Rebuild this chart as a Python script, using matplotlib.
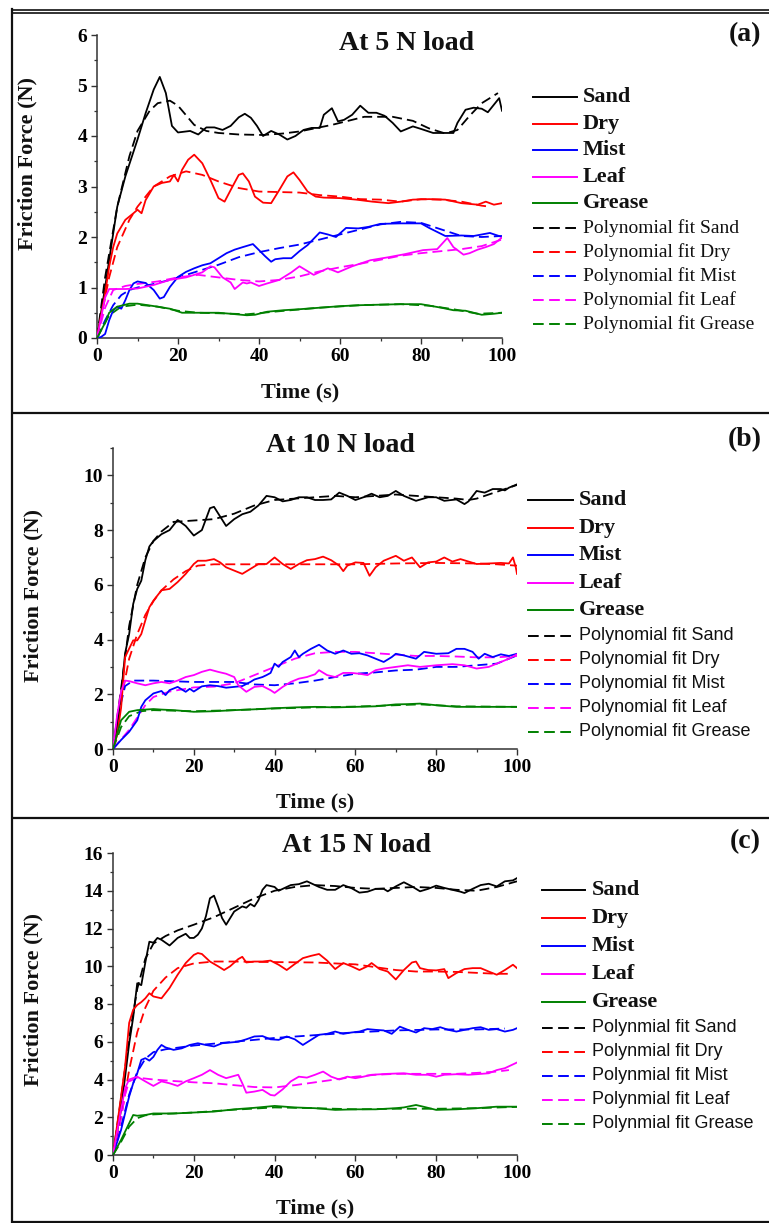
import matplotlib
matplotlib.use("Agg")
import matplotlib.pyplot as plt
from matplotlib.lines import Line2D
from matplotlib.ticker import MultipleLocator

W, H = 769, 1223

NAMES = ["Sand", "Dry", "Mist", "Leaf", "Grease"]
COLORS = ["#000000", "#ff0000", "#0000ff", "#ff00ff", "#008000"]
TITLES = ["At 5 N load", "At 10 N load", "At 15 N load"]
TAGS = ["(a)", "(b)", "(c)"]
FIT_PREFIX = ["Polynomial fit", "Polynomial fit", "Polynmial fit"]

# ---- panel (a): 5 N ----
A_SAND_T = [0, 1, 2, 3, 4, 5, 7, 10, 12, 14, 15.5, 17, 18.5, 20, 23, 25, 27, 29, 31, 33, 35, 36.5, 38, 39.5, 41, 43, 45, 47, 49, 51, 53, 55, 56, 58, 59.5, 61, 63, 65, 67, 69, 71, 73, 75, 78, 80, 83, 86, 88, 89, 91, 93, 95, 96.5, 98, 99.3, 100]
A_SAND_F = [0, 0.5, 1.0, 1.54, 2.07, 2.6, 3.2, 3.93, 4.45, 4.92, 5.17, 4.85, 4.2, 4.07, 4.1, 4.03, 4.17, 4.17, 4.12, 4.2, 4.37, 4.44, 4.36, 4.2, 4.0, 4.1, 4.03, 3.93, 4.0, 4.12, 4.16, 4.16, 4.42, 4.55, 4.29, 4.32, 4.42, 4.6, 4.46, 4.46, 4.4, 4.26, 4.09, 4.19, 4.14, 4.06, 4.06, 4.06, 4.26, 4.52, 4.56, 4.54, 4.47, 4.62, 4.75, 4.5]
A_SAND_FIT_T = [0, 2, 5, 8, 10, 13, 15, 18, 20, 24, 27, 30, 35, 41, 46, 50, 58, 66, 73, 78, 82, 86, 89, 92, 95, 97, 99]
A_SAND_FIT_F = [0, 1.2, 2.6, 3.6, 4.1, 4.5, 4.65, 4.7, 4.6, 4.22, 4.1, 4.06, 4.03, 4.02, 4.05, 4.09, 4.22, 4.38, 4.38, 4.3, 4.15, 4.05, 4.12, 4.4, 4.65, 4.75, 4.85]
A_DRY_T = [0, 2, 3, 4, 5, 7, 9, 10, 11, 12, 14, 16, 18, 19, 20, 21, 22.5, 24, 26, 28, 30, 31.5, 33, 35, 36, 37.5, 39, 41, 43, 45, 47, 48.5, 50, 52, 54, 56, 60, 64, 68, 72, 75, 78, 82, 86, 90, 94, 96, 98, 100]
A_DRY_F = [0, 0.88, 1.41, 1.8, 2.07, 2.34, 2.47, 2.54, 2.47, 2.73, 3.0, 3.07, 3.1, 3.23, 3.1, 3.33, 3.53, 3.63, 3.46, 3.13, 2.77, 2.7, 2.93, 3.23, 3.26, 3.1, 2.8, 2.68, 2.67, 2.93, 3.2, 3.28, 3.13, 2.9, 2.8, 2.78, 2.77, 2.74, 2.7, 2.67, 2.7, 2.74, 2.75, 2.74, 2.67, 2.64, 2.7, 2.64, 2.67]
A_DRY_FIT_T = [0, 3, 5, 8, 10, 14, 18, 22, 26, 30, 35, 40, 45, 50, 55, 60, 65, 70, 75, 80, 85, 90, 95, 97]
A_DRY_FIT_F = [0, 1.2, 1.8, 2.34, 2.6, 3.0, 3.2, 3.3, 3.23, 3.1, 2.97, 2.9, 2.89, 2.88, 2.83, 2.8, 2.75, 2.74, 2.7, 2.75, 2.74, 2.7, 2.62, 2.6]
A_MIST_T = [0, 1, 2, 3, 4, 5, 6, 7, 8, 9, 10, 12, 14, 15.5, 16.5, 18, 20, 22, 24, 26, 28, 30, 32, 34, 36, 38.5, 40, 41.5, 43, 44, 46, 48, 50, 52, 55, 57, 59, 61.5, 64.5, 67, 70, 75, 80, 82, 86, 90, 93, 97, 100]
A_MIST_F = [0, 0.02, 0.08, 0.35, 0.55, 0.62, 0.58, 0.75, 0.95, 1.08, 1.12, 1.09, 0.95, 0.78, 0.81, 1.01, 1.21, 1.31, 1.38, 1.44, 1.48, 1.58, 1.68, 1.75, 1.8, 1.86, 1.74, 1.62, 1.51, 1.56, 1.58, 1.58, 1.72, 1.84, 2.09, 2.05, 2.0, 2.18, 2.17, 2.2, 2.26, 2.27, 2.27, 2.18, 2.02, 2.03, 2.02, 2.08, 2.0]
A_MIST_FIT_T = [0, 2, 4, 6, 8, 10, 14, 18, 22, 26, 30, 35, 40, 45, 50, 55, 60, 65, 70, 75, 80, 85, 90, 95, 100]
A_MIST_FIT_F = [0, 0.35, 0.65, 0.85, 0.95, 1.0, 1.07, 1.15, 1.25, 1.35, 1.45, 1.6, 1.7, 1.78, 1.85, 1.95, 2.05, 2.15, 2.25, 2.3, 2.28, 2.15, 2.02, 2.0, 2.02]
A_LEAF_T = [0, 2, 3, 5, 7, 10, 14, 18, 22, 26, 28, 29, 31, 33, 34, 36, 37, 38, 40, 42, 45, 48, 50, 53.5, 57, 59.5, 63, 67.5, 72, 76, 80.5, 84, 86.5, 88, 90.5, 92, 94, 96, 98, 100]
A_LEAF_F = [0, 0.8, 0.97, 0.97, 0.97, 0.98, 1.05, 1.15, 1.2, 1.3, 1.42, 1.4, 1.2, 1.1, 0.97, 1.1, 1.08, 1.1, 1.03, 1.08, 1.15, 1.3, 1.42, 1.25, 1.38, 1.3, 1.42, 1.54, 1.6, 1.66, 1.74, 1.76, 1.98, 1.8, 1.65, 1.68, 1.75, 1.8, 1.86, 1.99]
A_LEAF_FIT_T = [0, 2, 4, 7, 10, 15, 20, 25, 30, 35, 40, 45, 50, 55, 60, 65, 70, 75, 80, 85, 90, 95, 100]
A_LEAF_FIT_F = [0, 0.6, 0.95, 1.03, 1.07, 1.12, 1.2, 1.25, 1.2, 1.15, 1.12, 1.15, 1.22, 1.32, 1.4, 1.47, 1.55, 1.63, 1.68, 1.72, 1.76, 1.82, 1.95]
A_GREASE_T = [0, 2, 3, 5, 8, 10, 15, 18, 21, 25, 30, 33, 37, 39, 42, 46, 50, 55, 60, 65, 70, 75, 80, 85, 88, 91, 95, 98, 100]
A_GREASE_F = [0, 0.3, 0.5, 0.62, 0.68, 0.68, 0.62, 0.58, 0.5, 0.5, 0.5, 0.48, 0.45, 0.46, 0.52, 0.55, 0.57, 0.6, 0.63, 0.65, 0.66, 0.67, 0.67, 0.6, 0.55, 0.54, 0.46, 0.48, 0.5]
A_GREASE_FIT_T = [0, 3, 6, 10, 15, 20, 25, 30, 37, 45, 55, 65, 75, 82, 88, 94, 100]
A_GREASE_FIT_F = [0, 0.45, 0.62, 0.66, 0.62, 0.54, 0.5, 0.49, 0.47, 0.53, 0.6, 0.65, 0.67, 0.64, 0.57, 0.48, 0.5]

# ---- panel (b): 10 N ----
B_SAND_T = [0, 1, 2, 3, 4, 5, 6, 7, 8, 9, 10, 12, 14, 16, 18, 20, 22, 24, 25, 26.5, 28, 30, 32, 34, 36, 38, 40, 42, 44, 46, 48, 50, 52, 54, 56, 58, 60, 62, 64, 66, 68, 70, 72, 75, 78, 80, 82, 85, 87, 88, 90, 92, 94, 96, 97, 98, 100]
B_SAND_F = [0, 0.8, 2.0, 3.5, 4.2, 5.3, 5.85, 6.15, 6.9, 7.4, 7.6, 7.85, 8.0, 8.37, 8.15, 7.8, 8.0, 8.8, 8.85, 8.5, 8.15, 8.4, 8.58, 8.67, 8.9, 9.25, 9.2, 9.05, 9.1, 9.2, 9.2, 9.1, 9.1, 9.12, 9.37, 9.25, 9.1, 9.2, 9.33, 9.2, 9.25, 9.43, 9.25, 9.07, 9.2, 9.2, 9.07, 9.12, 8.95, 9.05, 9.43, 9.37, 9.5, 9.5, 9.45, 9.55, 9.67]
B_SAND_FIT_T = [0, 2, 4, 6, 8, 10, 12, 15, 20, 25, 30, 35, 40, 45, 50, 55, 60, 65, 70, 75, 80, 85, 88, 90, 93, 95, 97, 100]
B_SAND_FIT_F = [0, 2.2, 4.5, 6.0, 7.0, 7.6, 7.95, 8.3, 8.35, 8.4, 8.6, 8.9, 9.1, 9.15, 9.2, 9.25, 9.2, 9.25, 9.3, 9.25, 9.2, 9.15, 9.1, 9.15, 9.3, 9.4, 9.5, 9.65]
B_DRY_T = [0, 1, 2, 3, 4, 5, 6, 7, 8, 9, 10, 12, 14, 16, 18, 20, 21, 23, 25, 26.5, 28, 30, 32, 34, 36, 38, 40, 42, 44, 46, 48, 50, 52, 54, 56, 57, 58, 60, 62, 63.5, 65, 67, 69, 70, 72, 74, 76, 78, 80, 82, 84, 86, 88, 90, 93, 96, 98, 99, 99.7, 100]
B_DRY_F = [0, 0.5, 1.5, 3.36, 3.67, 3.97, 3.97, 4.2, 4.7, 5.18, 5.42, 5.8, 5.85, 6.1, 6.4, 6.76, 6.88, 6.88, 6.94, 6.82, 6.64, 6.52, 6.4, 6.58, 6.76, 6.76, 7.0, 6.76, 6.58, 6.76, 6.9, 6.94, 7.03, 6.9, 6.7, 6.5, 6.7, 6.82, 6.8, 6.33, 6.64, 6.88, 7.0, 7.06, 6.88, 7.0, 6.64, 6.82, 6.85, 7.0, 6.85, 6.94, 6.85, 6.76, 6.78, 6.8, 6.78, 7.0, 6.64, 6.4]
B_DRY_FIT_T = [0, 2, 4, 6, 8, 10, 12, 15, 18, 21, 25, 30, 40, 50, 60, 70, 80, 90, 95, 100]
B_DRY_FIT_F = [0, 1.8, 3.3, 4.2, 4.9, 5.4, 5.8, 6.2, 6.5, 6.7, 6.75, 6.75, 6.75, 6.75, 6.75, 6.78, 6.8, 6.78, 6.75, 6.7]
B_MIST_T = [0, 2, 4, 6, 7, 8, 10, 12, 13, 14, 16, 18, 19, 20, 22, 24, 26, 28, 30, 32, 34, 35, 37, 38, 39, 40, 41, 42, 44, 45, 46, 47, 49, 51, 53, 55, 57, 59, 61, 63, 65, 67, 69, 70, 72, 75, 77, 80, 83, 85, 87, 89, 90.5, 92, 94, 96, 98, 100]
B_MIST_F = [0, 0.33, 0.63, 1.05, 1.54, 1.78, 2.03, 2.12, 1.97, 2.15, 2.27, 2.09, 2.2, 2.1, 2.29, 2.33, 2.3, 2.24, 2.27, 2.3, 2.45, 2.54, 2.63, 2.7, 2.78, 3.12, 3.0, 3.18, 3.36, 3.6, 3.36, 3.48, 3.66, 3.81, 3.6, 3.48, 3.6, 3.48, 3.5, 3.42, 3.3, 3.18, 3.36, 3.48, 3.42, 3.3, 3.55, 3.48, 3.5, 3.66, 3.66, 3.55, 3.3, 3.48, 3.36, 3.46, 3.4, 3.48]
B_MIST_FIT_T = [0, 1, 2, 3, 5, 10, 20, 30, 35, 40, 45, 50, 55, 60, 65, 70, 75, 80, 85, 90, 95, 98, 100]
B_MIST_FIT_F = [0, 0.9, 1.7, 2.3, 2.5, 2.5, 2.45, 2.45, 2.36, 2.33, 2.4, 2.5, 2.63, 2.75, 2.8, 2.87, 2.9, 3.0, 3.0, 3.06, 3.12, 3.3, 3.42]
B_LEAF_T = [0, 1, 2, 3, 4, 6, 8, 10, 12, 14, 16, 18, 20, 22, 24, 26, 28, 30, 31, 33, 35, 37, 39, 40, 42, 44, 46, 48, 50, 51, 53, 55, 57, 59, 61, 63, 65, 67, 70, 73, 76, 80, 84, 87, 90, 93, 96, 98, 100]
B_LEAF_F = [0, 1.2, 2.1, 2.5, 2.48, 2.4, 2.33, 2.4, 2.45, 2.4, 2.5, 2.63, 2.7, 2.82, 2.9, 2.82, 2.75, 2.63, 2.33, 2.09, 2.27, 2.3, 2.15, 2.05, 2.27, 2.45, 2.57, 2.63, 2.73, 2.88, 2.7, 2.63, 2.78, 2.78, 2.75, 2.7, 2.88, 2.94, 3.0, 3.06, 3.0, 3.06, 3.1, 3.06, 2.94, 3.0, 3.18, 3.3, 3.46]
B_LEAF_FIT_T = [0, 4, 8, 10, 14, 20, 25, 30, 35, 40, 45, 50, 55, 60, 65, 70, 75, 80, 85, 90, 95, 100]
B_LEAF_FIT_F = [0, 0.7, 1.6, 1.9, 2.1, 2.25, 2.28, 2.4, 2.7, 3.0, 3.3, 3.5, 3.55, 3.55, 3.5, 3.45, 3.4, 3.4, 3.38, 3.35, 3.35, 3.4]
B_GREASE_T = [0, 2, 4, 6, 10, 12, 15, 20, 25, 30, 35, 40, 45, 50, 55, 60, 65, 70, 73, 76, 80, 85, 90, 95, 100]
B_GREASE_F = [0, 1.05, 1.36, 1.42, 1.46, 1.44, 1.42, 1.36, 1.38, 1.42, 1.45, 1.49, 1.52, 1.54, 1.52, 1.54, 1.56, 1.63, 1.64, 1.66, 1.6, 1.54, 1.54, 1.54, 1.54]
B_GREASE_FIT_T = [0, 2, 4, 7, 10, 15, 20, 30, 40, 50, 60, 70, 76, 85, 100]
B_GREASE_FIT_F = [0, 0.8, 1.2, 1.38, 1.42, 1.4, 1.38, 1.42, 1.48, 1.52, 1.55, 1.6, 1.63, 1.56, 1.54]

# ---- panel (c): 15 N ----
C_SAND_T = [0, 2, 3, 4, 5, 6, 7, 8, 9, 10, 11, 12, 13, 14, 15, 16, 18, 19, 20, 21, 22, 23, 24, 25, 26, 27, 28, 29, 30, 32, 33, 34, 35, 36, 37, 38, 40, 41, 42, 44, 46, 48, 49, 51, 53, 55, 57, 59, 61, 63, 65, 67, 68, 70, 72, 74, 76, 78, 80, 82, 84, 86, 87, 89, 91, 93, 95, 97, 99, 100]
C_SAND_F = [0, 2.4, 4.15, 5.9, 7.3, 9.1, 9.0, 10.2, 11.3, 11.25, 11.5, 11.4, 11.25, 11.1, 11.3, 11.5, 11.72, 11.5, 11.5, 11.67, 12.0, 12.65, 13.6, 13.74, 13.17, 12.55, 12.2, 12.55, 12.9, 13.17, 13.1, 13.3, 13.17, 13.5, 14.05, 14.3, 14.2, 14.0, 14.1, 14.3, 14.35, 14.5, 14.4, 14.2, 14.05, 14.05, 14.3, 14.14, 13.9, 13.95, 14.1, 14.1, 13.97, 14.23, 14.45, 14.23, 13.97, 14.1, 14.27, 14.15, 14.05, 13.95, 13.88, 14.1, 14.3, 14.37, 14.23, 14.5, 14.55, 14.67]
C_SAND_FIT_T = [0, 2, 4, 6, 8, 10, 13, 16, 20, 25, 30, 35, 40, 45, 50, 55, 60, 65, 70, 75, 80, 85, 90, 95, 100]
C_SAND_FIT_F = [0, 3.0, 6.2, 8.8, 10.4, 11.2, 11.6, 11.9, 12.2, 12.6, 13.1, 13.6, 14.0, 14.2, 14.3, 14.25, 14.15, 14.1, 14.15, 14.2, 14.15, 14.05, 14.0, 14.2, 14.5]
C_DRY_T = [0, 2, 3, 4, 5, 6, 7, 8, 9, 10, 12, 14, 16, 18, 20, 21, 22, 24, 26, 27.5, 29, 31, 32, 33, 35, 37, 39, 41, 43, 45, 47, 49, 51, 53, 55, 57, 59, 61, 63, 64, 66, 68, 70, 72, 74, 75, 76, 78, 80, 82, 83, 85, 87, 89, 91, 93, 95, 97, 99, 100]
C_DRY_F = [0, 3.1, 4.7, 7.0, 7.7, 7.95, 8.1, 8.3, 8.57, 8.4, 8.3, 8.85, 9.55, 10.17, 10.6, 10.7, 10.65, 10.25, 10.0, 9.8, 10.0, 10.38, 10.5, 10.2, 10.25, 10.25, 10.3, 10.08, 9.8, 10.12, 10.43, 10.55, 10.65, 10.3, 9.85, 10.17, 10.0, 9.8, 10.0, 10.17, 9.85, 9.72, 9.3, 9.8, 10.2, 10.25, 9.9, 9.8, 9.78, 9.85, 9.37, 9.64, 9.85, 9.9, 9.9, 9.72, 9.55, 9.8, 10.08, 9.9]
C_DRY_FIT_T = [0, 2, 4, 6, 8, 10, 13, 16, 20, 25, 30, 40, 50, 60, 65, 70, 75, 80, 85, 90, 95, 98]
C_DRY_FIT_F = [0, 2.0, 4.5, 6.5, 7.8, 8.7, 9.4, 9.9, 10.15, 10.25, 10.25, 10.22, 10.2, 10.1, 9.95, 9.8, 9.72, 9.72, 9.7, 9.65, 9.6, 9.6]
C_MIST_T = [0, 2, 4, 5, 6, 7, 8, 9, 10, 11, 12, 13, 15, 17, 19, 21, 23, 25, 27, 29, 31, 33, 35, 37, 39, 41, 43, 45, 47, 49, 51, 53, 55, 57, 59, 61, 63, 65, 67, 69, 71, 73, 75, 77, 79, 81, 83, 85, 87, 89, 91, 93, 95, 97, 99, 100]
C_MIST_F = [0, 1.33, 3.1, 3.8, 4.33, 5.04, 5.13, 5.0, 5.2, 5.57, 5.83, 5.7, 5.57, 5.65, 5.83, 5.92, 5.83, 5.75, 5.92, 5.96, 6.0, 6.13, 6.28, 6.3, 6.13, 6.1, 6.28, 6.13, 5.83, 6.1, 6.37, 6.42, 6.54, 6.42, 6.49, 6.54, 6.67, 6.63, 6.6, 6.42, 6.8, 6.63, 6.49, 6.72, 6.67, 6.77, 6.63, 6.54, 6.63, 6.72, 6.77, 6.63, 6.67, 6.54, 6.63, 6.72]
C_MIST_FIT_T = [0, 2, 4, 6, 8, 10, 13, 20, 30, 40, 50, 60, 70, 80, 90, 97]
C_MIST_FIT_F = [0, 1.5, 3.2, 4.4, 5.1, 5.45, 5.6, 5.8, 6.0, 6.2, 6.35, 6.5, 6.6, 6.65, 6.65, 6.7]
C_LEAF_T = [0, 2, 3, 4, 6, 8, 10, 12, 14, 16, 18, 20, 22, 24, 26, 28, 31, 32, 33, 35, 37, 39, 40, 42, 44, 46, 48, 50, 52, 54, 56, 58, 60, 62, 64, 68, 72, 75, 78, 80, 82, 85, 88, 90, 93, 95, 97, 99, 100]
C_LEAF_F = [0, 2.4, 3.55, 4.0, 4.15, 3.9, 3.66, 3.9, 3.8, 3.66, 3.9, 4.07, 4.25, 4.5, 4.25, 4.07, 4.25, 3.8, 3.3, 3.36, 3.45, 3.18, 3.15, 3.48, 3.9, 4.15, 4.1, 4.25, 4.42, 4.15, 4.0, 4.15, 4.07, 4.15, 4.25, 4.3, 4.33, 4.25, 4.25, 4.15, 4.25, 4.28, 4.25, 4.28, 4.33, 4.5, 4.6, 4.8, 4.9]
C_LEAF_FIT_T = [0, 2, 3, 4, 6, 10, 15, 20, 25, 30, 35, 40, 45, 50, 55, 60, 65, 70, 75, 80, 85, 90, 95, 98]
C_LEAF_FIT_F = [0, 2.0, 3.2, 3.9, 4.1, 4.0, 3.92, 3.85, 3.8, 3.7, 3.6, 3.58, 3.7, 3.85, 4.0, 4.15, 4.25, 4.3, 4.3, 4.3, 4.3, 4.35, 4.42, 4.5]
C_GREASE_T = [0, 2, 4, 5, 6, 8, 10, 15, 20, 25, 30, 35, 40, 45, 50, 55, 60, 65, 70, 72, 75, 77, 80, 85, 90, 95, 100]
C_GREASE_F = [0, 0.8, 1.68, 2.12, 2.08, 2.12, 2.2, 2.2, 2.25, 2.3, 2.42, 2.5, 2.6, 2.52, 2.48, 2.39, 2.42, 2.42, 2.48, 2.52, 2.65, 2.55, 2.39, 2.42, 2.48, 2.56, 2.56]
C_GREASE_FIT_T = [0, 2, 4, 6, 8, 10, 20, 30, 40, 50, 60, 70, 80, 90, 100]
C_GREASE_FIT_F = [0, 0.7, 1.5, 1.95, 2.1, 2.15, 2.25, 2.4, 2.52, 2.48, 2.42, 2.45, 2.45, 2.48, 2.55]

Y_MAX = [6, 11, 16]
Y_MAJOR = [1, 2, 2]
Y_MINOR = [0.5, 1, 1]

SERIF = "Liberation Serif"
SANS = "Liberation Sans"
DASH = (0, (5.5, 2.8))


def fx(x):
    return x / W


def fy(y):
    return 1 - y / H


def hline(fig, x0, x1, y, lw):
    fig.add_artist(Line2D([fx(x0), fx(x1)], [fy(y), fy(y)], transform=fig.transFigure,
                          color="#111111", lw=lw, solid_capstyle="butt"))


def draw_panel(fig, k, box, raws, fits):
    left, top, right, bottom = box
    ax = fig.add_axes([fx(left), fy(bottom), (right - left) / W, (bottom - top) / H])
    for (t, f), c in zip(raws, COLORS):
        ax.plot(t, f, color=c, lw=1.3, zorder=3)
    for (t, f), c in zip(fits, COLORS):
        ax.plot(t, f, color=c, lw=1.3, ls=DASH, zorder=2)

    ax.set_xlim(0, 100)
    ax.set_ylim(0, Y_MAX[k])
    ax.xaxis.set_major_locator(MultipleLocator(20))
    ax.xaxis.set_minor_locator(MultipleLocator(10))
    ax.yaxis.set_major_locator(MultipleLocator(Y_MAJOR[k]))
    ax.yaxis.set_minor_locator(MultipleLocator(Y_MINOR[k]))
    for s in ["top", "right"]:
        ax.spines[s].set_visible(False)
    for s in ["left", "bottom"]:
        ax.spines[s].set_linewidth(1.1)
        ax.spines[s].set_color("#333333")
    ax.tick_params(which="major", direction="out", length=4, width=1.0, color="#333333",
                   labelsize=14, pad=3)
    ax.tick_params(which="minor", direction="out", length=2.5, width=0.9, color="#333333")
    for lab in ax.get_xticklabels() + ax.get_yticklabels():
        lab.set_fontfamily(SERIF)
        lab.set_fontweight("bold")
    ax.patch.set_alpha(0)
    return ax


def draw_legend(fig, k, x0, x1, xt, rows_y):
    bold = dict(family=SERIF, weight="bold", size=16)
    if k == 0:
        poly = dict(family=SERIF, size=14)
    else:
        poly = dict(family=SANS, size=13)
    for i in range(10):
        y = rows_y[i]
        c = COLORS[i % 5]
        if i < 5:
            ls, label, fp = "-", NAMES[i], bold
        else:
            ls, label, fp = DASH, f"{FIT_PREFIX[k]} {NAMES[i - 5]}", poly
        fig.add_artist(Line2D([fx(x0), fx(x1)], [fy(y), fy(y)], transform=fig.transFigure,
                              color=c, lw=1.4, ls=ls))
        fig.text(fx(xt), fy(y), label, ha="left", va="center", color="#111111", **fp)


fig = plt.figure(figsize=(W / 100, H / 100), dpi=100)
fig.patch.set_facecolor("white")

raw_a = [(A_SAND_T, A_SAND_F), (A_DRY_T, A_DRY_F), (A_MIST_T, A_MIST_F), (A_LEAF_T, A_LEAF_F), (A_GREASE_T, A_GREASE_F)]
fit_a = [(A_SAND_FIT_T, A_SAND_FIT_F), (A_DRY_FIT_T, A_DRY_FIT_F), (A_MIST_FIT_T, A_MIST_FIT_F), (A_LEAF_FIT_T, A_LEAF_FIT_F), (A_GREASE_FIT_T, A_GREASE_FIT_F)]
raw_b = [(B_SAND_T, B_SAND_F), (B_DRY_T, B_DRY_F), (B_MIST_T, B_MIST_F), (B_LEAF_T, B_LEAF_F), (B_GREASE_T, B_GREASE_F)]
fit_b = [(B_SAND_FIT_T, B_SAND_FIT_F), (B_DRY_FIT_T, B_DRY_FIT_F), (B_MIST_FIT_T, B_MIST_FIT_F), (B_LEAF_FIT_T, B_LEAF_FIT_F), (B_GREASE_FIT_T, B_GREASE_FIT_F)]
raw_c = [(C_SAND_T, C_SAND_F), (C_DRY_T, C_DRY_F), (C_MIST_T, C_MIST_F), (C_LEAF_T, C_LEAF_F), (C_GREASE_T, C_GREASE_F)]
fit_c = [(C_SAND_FIT_T, C_SAND_FIT_F), (C_DRY_FIT_T, C_DRY_FIT_F), (C_MIST_FIT_T, C_MIST_FIT_F), (C_LEAF_FIT_T, C_LEAF_FIT_F), (C_GREASE_FIT_T, C_GREASE_FIT_F)]

# pixel layout: axes box (left, top, right, bottom)
boxes = [(97, 35, 502, 338), (113, 448, 517, 749), (113, 853, 517, 1155)]
title_xy = [(407, 43), (340, 446), (356, 845)]
tag_xy = [(745, 35), (745, 440), (745, 842)]
ylab_xy = [(27, 163), (33, 596), (33, 1000)]
xlab_xy = [(300, 392), (315, 802), (315, 1208)]
legend_x = [(533, 577, 583), (528, 573, 579), (542, 585, 592)]
legend_rows = [
    [97, 124, 150, 177, 203, 228, 252, 276, 300, 324],
    [500, 528, 555, 583, 610, 636, 660, 684, 708, 732],
    [890, 918, 946, 974, 1002, 1028, 1052, 1076, 1100, 1124],
]

for k, (raws, fits) in enumerate([(raw_a, fit_a), (raw_b, fit_b), (raw_c, fit_c)]):
    draw_panel(fig, k, boxes[k], raws, fits)
    tx, ty = title_xy[k]
    fig.text(fx(tx), fy(ty), TITLES[k], ha="center", va="center", family=SERIF,
             weight="bold", size=20, color="#111111")
    gx, gy = tag_xy[k]
    fig.text(fx(gx), fy(gy), TAGS[k], ha="center", va="center", family=SERIF,
             weight="bold", size=20, color="#111111")
    lx, ly = ylab_xy[k]
    fig.text(fx(lx), fy(ly), "Friction Force (N)", ha="center", va="center", rotation=90,
             family=SERIF, weight="bold", size=16, color="#111111")
    bx, by = xlab_xy[k]
    fig.text(fx(bx), fy(by), "Time (s)", ha="center", va="center", family=SERIF,
             weight="bold", size=16, color="#111111")
    x0, x1, xt = legend_x[k]
    draw_legend(fig, k, x0, x1, xt, legend_rows[k])

# frame around the three panels
hline(fig, 11, W, 9.5, 1.2)
hline(fig, 11, W, 12.5, 1.2)
hline(fig, 11, W, 413, 1.6)
hline(fig, 11, W, 818, 1.6)
hline(fig, 11, W, 1221.5, 1.6)
fig.add_artist(Line2D([fx(12), fx(12)], [fy(9), fy(1222)], transform=fig.transFigure,
                      color="#111111", lw=1.6))

fig.savefig("out.png", dpi=100, facecolor="white")
